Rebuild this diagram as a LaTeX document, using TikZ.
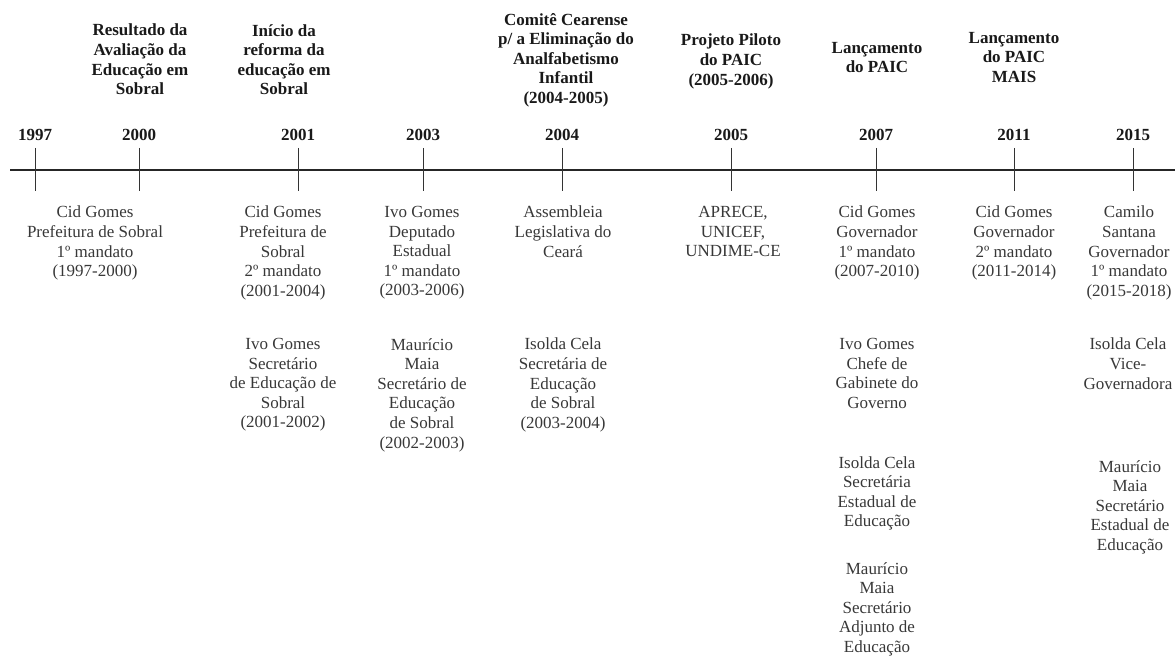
\documentclass[tikz,border=0pt]{standalone}
\usepackage{fontspec}
\setmainfont{Liberation Serif}
\begin{document}
\begin{tikzpicture}[x=1pt,y=-1pt,
  txt/.style={font=\fontsize{17}{19.6}\selectfont, text=black!78, align=center, anchor=north, inner sep=0pt, execute at begin node=\strut},
  hdr/.style={txt, font=\fontsize{17}{19.6}\selectfont\bfseries, text=black!90},
  yr/.style={font=\fontsize{17}{19.6}\selectfont\bfseries, text=black!90, anchor=base, inner sep=0pt},
  axis/.style={line width=2pt, black!85},
  tick/.style={line width=0.8pt, black!80}]
\useasboundingbox (0,0) rectangle (1175,658);
% axis
\coordinate (axL) at (10,170);
\coordinate (axR) at (1175,170);
\draw[axis] (axL) -- (axR);
% ticks and years
\foreach \n/\x in {1997/35,2000/139,2001/298,2003/423,2004/562,2005/731,2007/876,2011/1014,2015/1133}{
  \coordinate (t\n a) at (\x,148);
  \coordinate (t\n b) at (\x,191);
  \draw[tick] (t\n a) -- (t\n b);
  \node[yr] (y\n) at (\x,141) {\n};
}
% headers
\node[hdr] (h2000) at (140,24) {Resultado da\\Avaliação da\\Educação em\\Sobral};
\node[hdr] (h2001) at (284,24) {Início da\\reforma da\\educação em\\Sobral};
\node[hdr] (h2004) at (566,13) {Comitê Cearense\\p/ a Eliminação do\\Analfabetismo\\Infantil\\(2004-2005)};
\node[hdr] (h2005) at (731,34) {Projeto Piloto\\do PAIC\\(2005-2006)};
\node[hdr] (h2007) at (877,42) {Lançamento\\do PAIC};
\node[hdr] (h2011) at (1014,32) {Lançamento\\do PAIC\\MAIS};
% body texts
\node[txt] (b1997) at (95,206) {Cid Gomes\\Prefeitura de Sobral\\1º mandato\\(1997-2000)};
\node[txt] (b2001a) at (283,206) {Cid Gomes\\Prefeitura de\\Sobral\\2º mandato\\(2001-2004)};
\node[txt] (b2001b) at (283,338) {Ivo Gomes\\Secretário\\de Educação de\\Sobral\\(2001-2002)};
\node[txt] (b2003a) at (422,206) {Ivo Gomes\\Deputado\\Estadual\\1º mandato\\(2003-2006)};
\node[txt] (b2003b) at (422,338) {Maurício\\Maia\\Secretário de\\Educação\\de Sobral\\(2002-2003)};
\node[txt] (b2004a) at (563,206) {Assembleia\\Legislativa do\\Ceará};
\node[txt] (b2004b) at (563,338) {Isolda Cela\\Secretária de\\Educação\\de Sobral\\(2003-2004)};
\node[txt] (b2005) at (733,206) {APRECE,\\UNICEF,\\UNDIME-CE};
\node[txt] (b2007a) at (877,206) {Cid Gomes\\Governador\\1º mandato\\(2007-2010)};
\node[txt] (b2007b) at (877,338) {Ivo Gomes\\Chefe de\\Gabinete do\\Governo};
\node[txt] (b2007c) at (877,456) {Isolda Cela\\Secretária\\Estadual de\\Educação};
\node[txt] (b2007d) at (877,562) {Maurício\\Maia\\Secretário\\Adjunto de\\Educação};
\node[txt] (b2011) at (1014,206) {Cid Gomes\\Governador\\2º mandato\\(2011-2014)};
\node[txt] (b2015a) at (1129,206) {Camilo\\Santana\\Governador\\1º mandato\\(2015-2018)};
\node[txt] (b2015b) at (1128,338) {Isolda Cela\\Vice-\\Governadora};
\node[txt] (b2015c) at (1130,460) {Maurício\\Maia\\Secretário\\Estadual de\\Educação};
\end{tikzpicture}
\end{document}
